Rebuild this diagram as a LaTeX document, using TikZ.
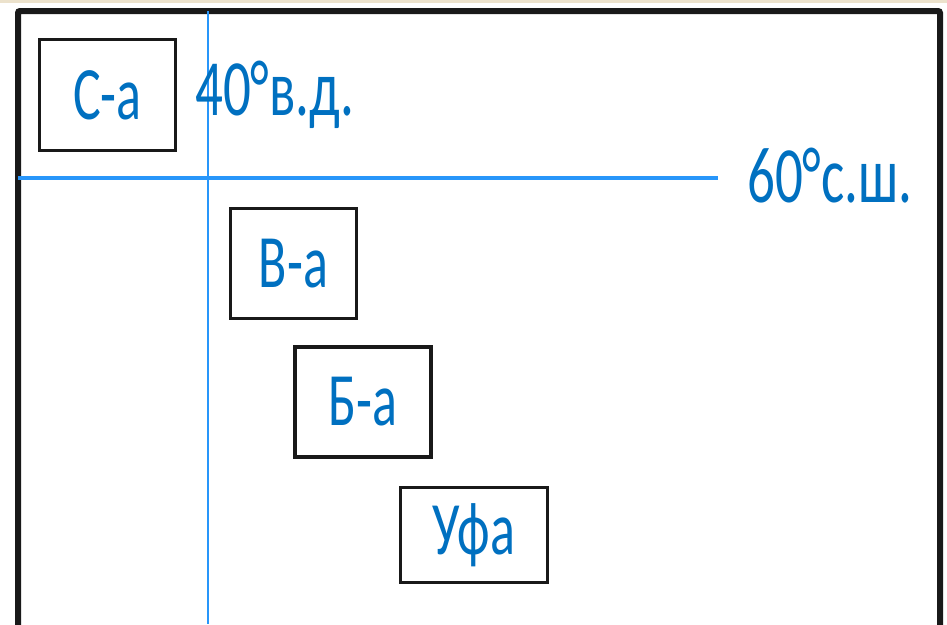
\documentclass[tikz,border=0pt]{standalone}
\usepackage{fontspec}
\setmainfont{Carlito}
\usepackage{graphicx}
\definecolor{txtblue}{RGB}{0,112,192}
\definecolor{lineblue}{RGB}{40,150,250}
\definecolor{topstrip}{RGB}{236,226,204}
\newcommand{\tall}[1]{\scalebox{1}[1.45]{#1}}

\begin{document}
\begin{tikzpicture}[x=1pt, y=-1pt,
    city/.style={draw=black!90, line width=3pt, inner sep=0pt, text=txtblue,
                 font=\fontsize{52}{60}\selectfont},
    degree/.style={text=txtblue, inner sep=0pt, font=\fontsize{55}{64}\selectfont}]
        \useasboundingbox (0,0) rectangle (947,624);
        \clip (0,0) rectangle (947,624);
        \fill[topstrip] (0,0) rectangle (947,2.5);
        % frame
        \draw[line width=6pt, black!90, rounded corners=2pt] (18,11) rectangle (940,640);
        % meridian and parallel
        \draw[lineblue, line width=2pt] (208,11) -- (208,624);
        \draw[lineblue, line width=4pt] (18,178) -- (718,178);
        \node[degree, anchor=base west] (lon) at (195,115) {\tall{40°в.д.}};
        \node[degree, anchor=base west] (lat) at (747,202) {\tall{60°с.ш.}};
        % cities
        \node[city, minimum width=136pt, minimum height=111pt] (sa) at (107.5,95) {\tall{С-а}};
        \node[city, minimum width=126pt, minimum height=110pt] (va) at (293.5,263.5) {\tall{В-а}};
        \node[city, line width=4pt, minimum width=136pt, minimum height=110pt] (ba) at (363,402) {\tall{Б-а}};
        \node[city, line width=2.5pt, minimum width=147pt, minimum height=95pt] (ufa) at (474,535) {\tall{Уфа}};
    \end{tikzpicture}
\end{document}
